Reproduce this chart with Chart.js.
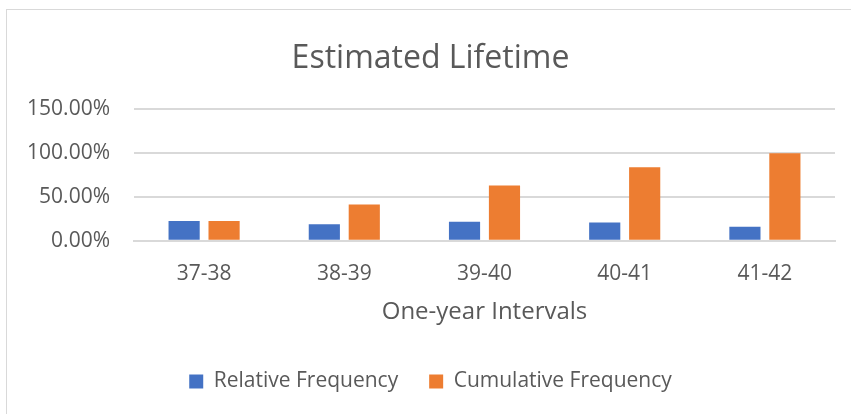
<!DOCTYPE html>
<html>
<head>
<meta charset="utf-8">
<script src="https://cdn.jsdelivr.net/npm/chart.js@4"></script>
<style>
  html, body { margin: 0; padding: 0; background: #fff; }
  #frame { position: absolute; left: 6px; top: 9px; width: 900px; height: 500px; border: 1px solid #d9d9d9; }
  #wrap { position: absolute; left: 0; top: 0; width: 851px; height: 414px; }
</style>
</head>
<body>
<div id="frame"></div>
<div id="wrap"><canvas id="chart" width="851" height="414"></canvas></div>
<script>
  // 구간, 상대도수, 누적도수
  const intervals = ['37-38', '38-39', '39-40', '40-41', '41-42'];
  const relativeFreq = [0.226, 0.189, 0.217, 0.208, 0.160];
  const cumulativeFreq = [0.226, 0.415, 0.632, 0.840, 1.000];
  const yTicks = [0, 0.5, 1.0, 1.5];

  const textColor = '#595959';
  const gridColor = '#d9d9d9';
  Chart.defaults.font.family = '"Open Sans", sans-serif';
  Chart.defaults.color = textColor;

  new Chart(document.getElementById('chart').getContext('2d'), {
    type: 'bar',
    data: {
      labels: intervals,
      datasets: [
        {
          label: 'Relative Frequency',
          data: relativeFreq,
          backgroundColor: '#4472c4',
          categoryPercentage: 0.57,
          barPercentage: 0.78
        },
        {
          label: 'Cumulative Frequency',
          data: cumulativeFreq,
          backgroundColor: '#ed7d31',
          categoryPercentage: 0.57,
          barPercentage: 0.78
        }
      ]
    },
    options: {
      responsive: false,
      animation: false,
      layout: { padding: { left: 26, right: 16, top: 34, bottom: 12 } },
      plugins: {
        title: {
          display: true,
          text: 'Estimated Lifetime',
          color: textColor,
          font: { size: 32, weight: 'normal' },
          padding: { top: 6, bottom: 31 }
        },
        legend: {
          position: 'bottom',
          labels: {
            color: textColor,
            boxWidth: 14,
            boxHeight: 14,
            padding: 31,
            font: { size: 21 }
          }
        },
        tooltip: { enabled: false }
      },
      scales: {
        x: {
          grid: { display: false },
          border: { display: true, color: gridColor, width: 2 },
          ticks: { color: textColor, font: { size: 21 }, padding: 13 },
          title: {
            display: true,
            text: 'One-year Intervals',
            color: textColor,
            font: { size: 24, lineHeight: 1.0 },
            padding: { top: 0, bottom: 16 }
          }
        },
        y: {
          min: 0,
          max: 1.5,
          afterBuildTicks: axis => { axis.ticks = yTicks.map(v => ({ value: v })); },
          afterFit: axis => { axis.width = 108; },
          grid: { color: gridColor, lineWidth: 2, drawTicks: false },
          border: { display: false },
          ticks: {
            color: textColor,
            font: { size: 21 },
            padding: 24,
            callback: v => (v * 100).toFixed(2) + '%'
          }
        }
      }
    }
  });
</script>
</body>
</html>
